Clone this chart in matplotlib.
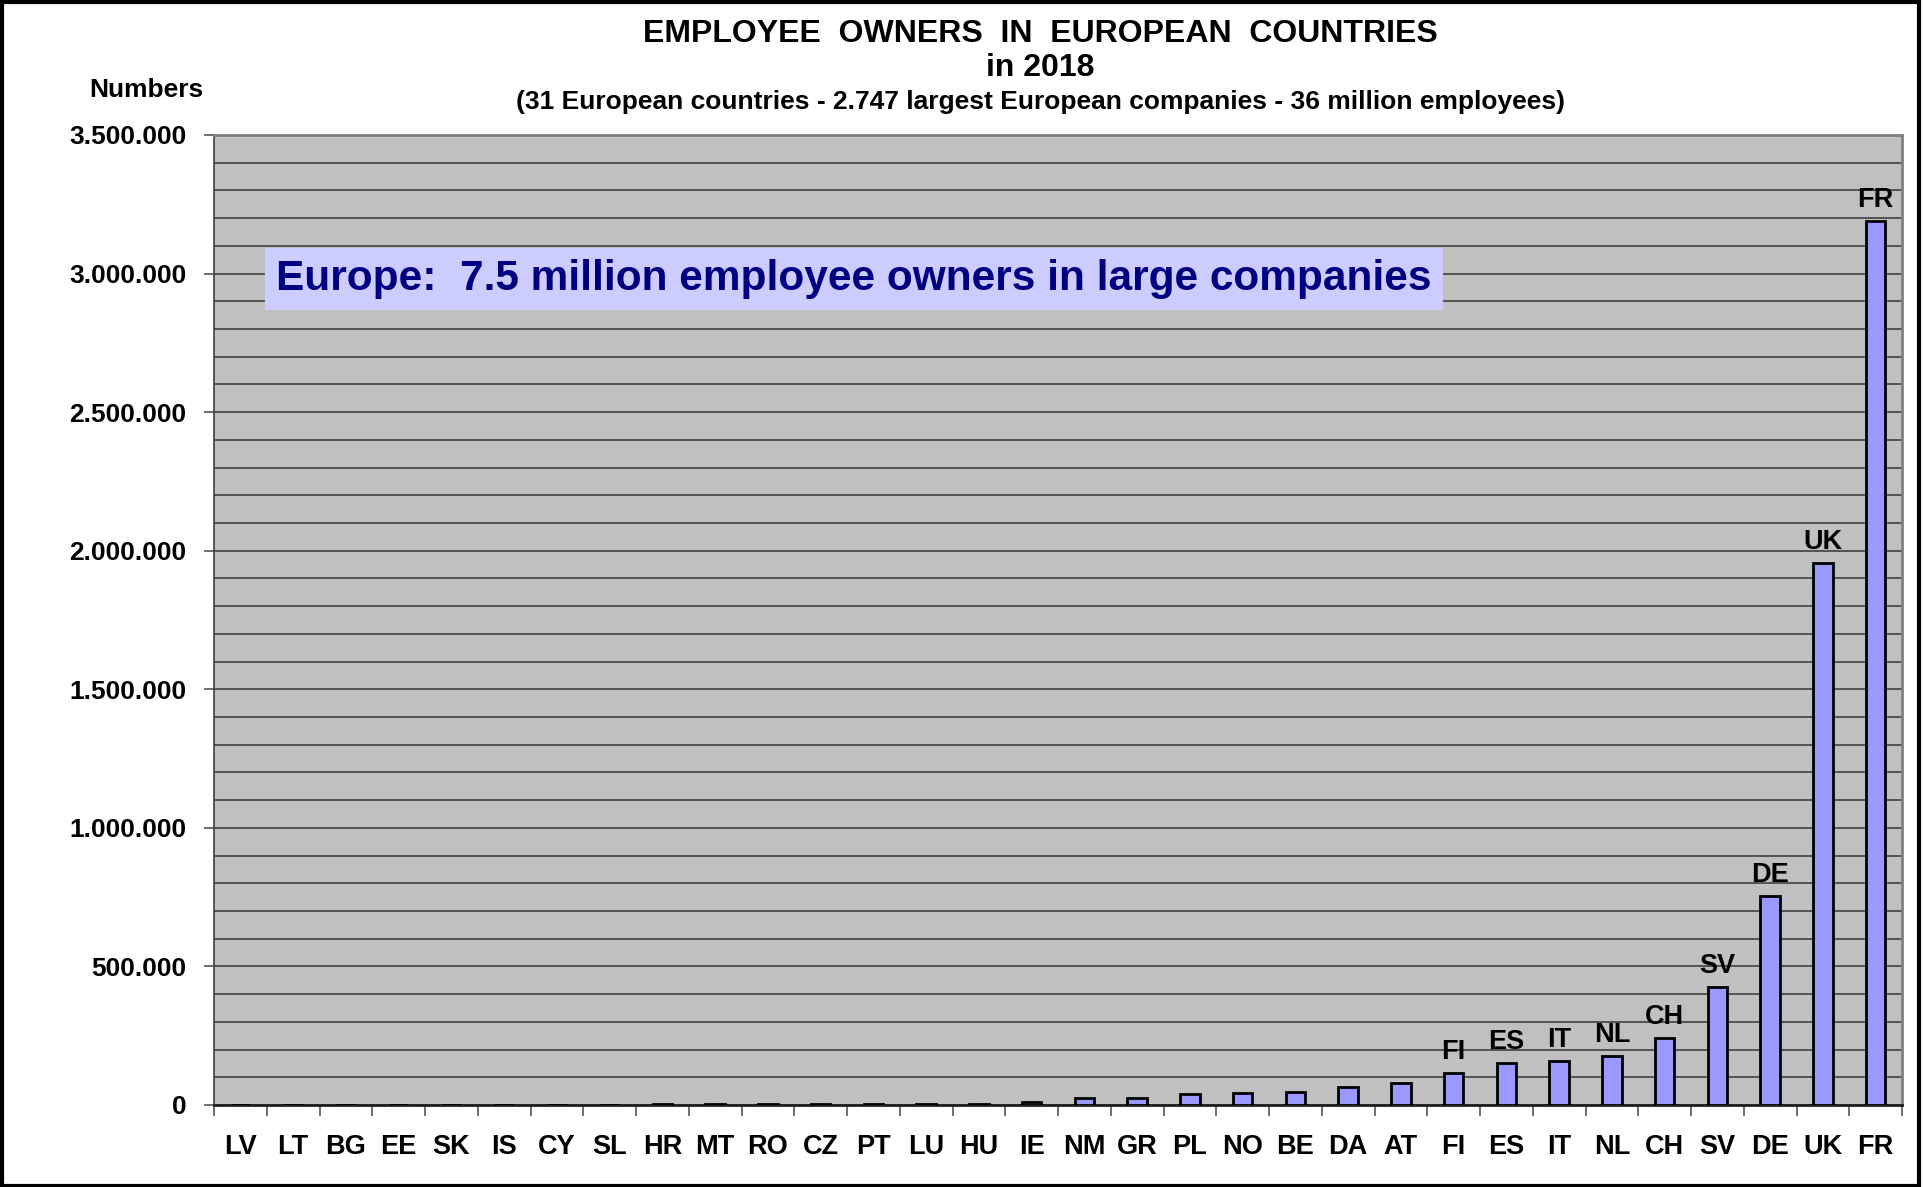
import matplotlib
matplotlib.use("Agg")
import matplotlib.pyplot as plt
from matplotlib.patches import Rectangle
from matplotlib.ticker import FuncFormatter, MultipleLocator

plt.rcParams['font.family'] = ['Liberation Sans', 'DejaVu Sans']
plt.rcParams['font.weight'] = 'bold'

countries = ["LV", "LT", "BG", "EE", "SK", "IS", "CY", "SL", "HR", "MT", "RO",
             "CZ", "PT", "LU", "HU", "IE", "NM", "GR", "PL", "NO", "BE", "DA",
             "AT", "FI", "ES", "IT", "NL", "CH", "SV", "DE", "UK", "FR"]
owners = [0, 500, 1000, 1000, 1000, 1000, 1000, 1000, 2000, 2000, 3000,
          3000, 3000, 5000, 5000, 12000, 26000, 26000, 40000, 44000, 48000, 65000,
          79000, 114000, 151000, 158000, 177000, 241000, 424000, 753000, 1954000, 3190000]

title = "EMPLOYEE  OWNERS  IN  EUROPEAN  COUNTRIES\nin 2018"
subtitle = "(31 European countries - 2.747 largest European companies - 36 million employees)"
banner = "Europe:  7.5 million employee owners in large companies"
label_min = 100000

W, H = 1923, 1187
fig = plt.figure(figsize=(W / 100, H / 100), dpi=100)
ax = fig.add_axes([214 / W, 1 - 1105 / H, (1902 - 214) / W, (1105 - 135) / H])
ax.set_facecolor('#C0C0C0')

x = range(len(countries))
ax.bar(x, owners, width=0.37, color='#9999FF', edgecolor='black', linewidth=2, zorder=3)

for i, (c, v) in enumerate(zip(countries, owners)):
    if v >= label_min:
        ax.annotate(c, (i, v), xytext=(0, 6), textcoords='offset points',
                    ha='center', va='bottom', fontsize=19.5, fontweight='bold')

ax.set_xlim(-0.5, len(countries) - 0.5)
ax.set_ylim(0, 3500000)
ax.yaxis.set_major_locator(MultipleLocator(500000))
ax.yaxis.set_minor_locator(MultipleLocator(100000))
ax.yaxis.set_major_formatter(FuncFormatter(lambda v, p: f"{int(v):,}".replace(',', '.')))
ax.grid(True, which='both', axis='y', color='#404040', linewidth=1.2, zorder=1)
ax.set_axisbelow(True)

ax.set_xticks(list(x))
ax.set_xticklabels(countries, fontsize=19.5, fontweight='bold')
ax.set_xticks([i - 0.5 for i in range(len(countries) + 1)], minor=True)
ax.tick_params(axis='x', which='major', length=0, pad=21)
ax.tick_params(axis='x', which='minor', length=8, color='#555555', width=1.2)
ax.tick_params(axis='y', which='major', length=7, color='#555555', width=1.2, labelsize=19, pad=13)
ax.tick_params(axis='y', which='minor', length=0)

for s in ['top', 'right']:
    ax.spines[s].set_color('#808080')
    ax.spines[s].set_linewidth(2)
ax.spines['left'].set_color('#404040')
ax.spines['bottom'].set_color('#202020')
ax.spines['left'].set_linewidth(1.2)
ax.spines['bottom'].set_linewidth(2)

fig.text(1040 / W, 1 - 51 / H, title, ha='center', va='center', fontsize=23,
         fontweight='bold', linespacing=1.2)
fig.text(1040 / W, 1 - 102 / H, subtitle, ha='center', va='center', fontsize=19, fontweight='bold')
fig.text(146 / W, 1 - 90 / H, "Numbers", ha='center', va='center', fontsize=19, fontweight='bold')
fig.text(854 / W, 1 - 279 / H, banner, ha='center', va='center', fontsize=30.5, fontweight='bold',
         color='#000080',
         bbox=dict(boxstyle='square,pad=0.27', facecolor='#CCCCFF', edgecolor='none'))

fig.patches.append(Rectangle((0.001, 0.001), 0.997, 0.997, transform=fig.transFigure,
                             fill=False, edgecolor='black', linewidth=3))

fig.savefig("out.png", dpi=100)
